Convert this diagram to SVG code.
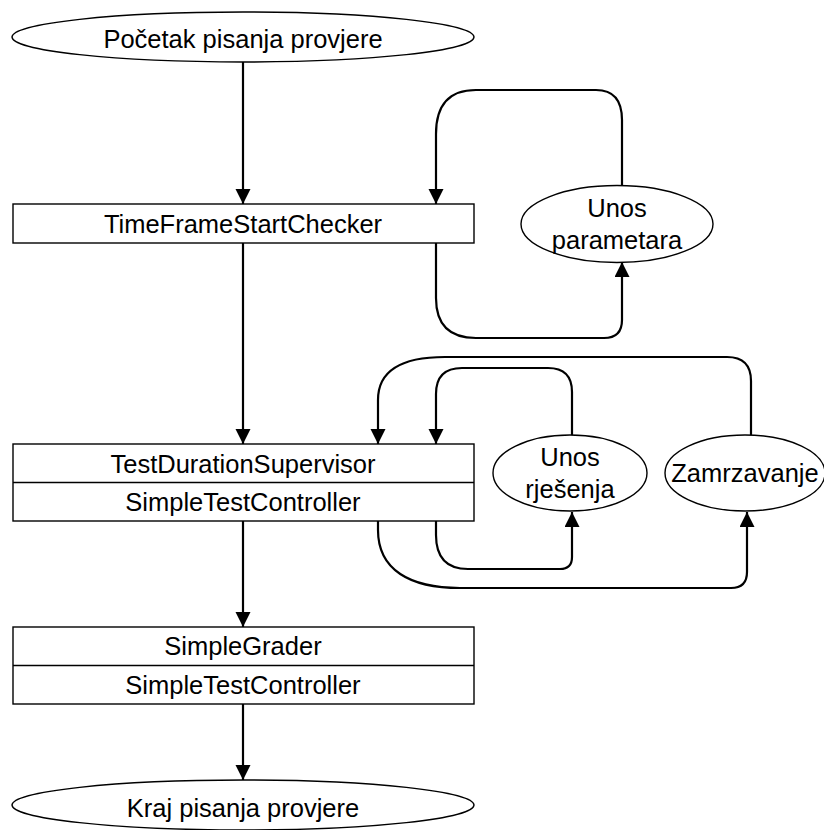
<svg xmlns="http://www.w3.org/2000/svg" width="824" height="830" viewBox="0 0 824 830">
  <style>
    .shape { fill: #ffffff; stroke: #000000; stroke-width: 1.4; }
    .label { font-family: "Liberation Sans", Arial, sans-serif; font-size: 25.5px; fill: #000000; text-anchor: middle; dominant-baseline: central; }
    .edge { fill: none; stroke: #000000; stroke-width: 2.2; marker-end: url(#arrow); }
  </style>
  <defs>
    <marker id="arrow" markerUnits="userSpaceOnUse" markerWidth="16" markerHeight="16" refX="15" refY="7.5" orient="auto">
      <path d="M0,0 L15,7.5 L0,15 Z" fill="#000000"/>
    </marker>
  </defs>
  <rect width="824" height="830" fill="#ffffff"/>

  <g id="connectors">
    <path class="edge" d="M243,62 V204"/>
    <path class="edge" d="M243,243 V444"/>
    <path class="edge" d="M243,521 V627"/>
    <path class="edge" d="M243,704 V780"/>
    <!-- loop around TimeFrameStartChecker -->
    <path class="edge" d="M436,243 V298 Q436,338 476,338 H604 Q622,338 622,320 V262"/>
    <path class="edge" d="M622,185 V120 Q622,90 596,90 H476 Q436,90 436,134 V204"/>
    <!-- loops around TestDurationSupervisor -->
    <path class="edge" d="M572,435 V392 Q572,368 548,368 H462 Q436,368 436,394 V444"/>
    <path class="edge" d="M751,435 V381 Q751,357 727,357 H445 C400,357 378,372 378,400 V444"/>
    <path class="edge" d="M436,521 V535 Q436,569 468,569 H560 Q572,569 572,557 V512"/>
    <path class="edge" d="M378,521 V530 C378,570 410,588 460,588 H731 Q747,588 747,572 V512"/>
  </g>

  <g id="start">
    <ellipse class="shape" cx="243" cy="37" rx="231" ry="25"/>
    <text class="label" x="243" y="39">Početak pisanja provjere</text>
  </g>

  <g id="time-frame-start-checker">
    <rect class="shape" x="13" y="204" width="461" height="39"/>
    <text class="label" x="243" y="224">TimeFrameStartChecker</text>
  </g>

  <g id="unos-parametara">
    <ellipse class="shape" cx="617" cy="224" rx="96" ry="38.5"/>
    <text class="label" x="617" y="208">Unos</text>
    <text class="label" x="617" y="240">parametara</text>
  </g>

  <g id="test-duration-supervisor">
    <rect class="shape" x="13" y="444" width="461" height="77"/>
    <line class="shape" x1="13" y1="482.5" x2="474" y2="482.5"/>
    <text class="label" x="243" y="464">TestDurationSupervisor</text>
    <text class="label" x="243" y="502">SimpleTestController</text>
  </g>

  <g id="unos-rjesenja">
    <ellipse class="shape" cx="570" cy="473" rx="77" ry="38"/>
    <text class="label" x="570" y="457">Unos</text>
    <text class="label" x="570" y="489">rješenja</text>
  </g>

  <g id="zamrzavanje">
    <ellipse class="shape" cx="745" cy="473" rx="80" ry="38"/>
    <text class="label" x="745" y="473">Zamrzavanje</text>
  </g>

  <g id="simple-grader">
    <rect class="shape" x="13" y="627" width="461" height="77"/>
    <line class="shape" x1="13" y1="665.5" x2="474" y2="665.5"/>
    <text class="label" x="243" y="646">SimpleGrader</text>
    <text class="label" x="243" y="685">SimpleTestController</text>
  </g>

  <g id="end">
    <ellipse class="shape" cx="243" cy="805" rx="231" ry="25"/>
    <text class="label" x="243" y="808">Kraj pisanja provjere</text>
  </g>
</svg>
